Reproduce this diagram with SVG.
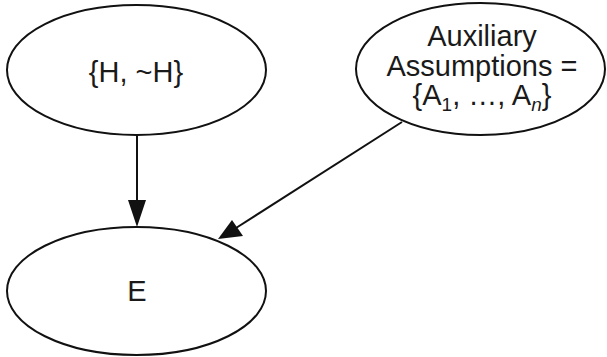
<svg xmlns="http://www.w3.org/2000/svg" width="607" height="357" viewBox="0 0 607 357">
<style>
.n{fill:#fff;stroke:#111;stroke-width:2}
.t{font-family:"Liberation Sans",Arial,sans-serif;font-size:29px;fill:#1a1a1a;text-anchor:middle}
.c{stroke:#111;stroke-width:2;fill:none}
.h{fill:#111}
</style>
<rect width="607" height="357" fill="#fff"/>
<g id="connectors">
<path class="c" d="M137,135 L137,203"/>
<path class="h" d="M128,200 L146,200 L137,227 z"/>
<path class="c" d="M402,122 L236,228"/>
<path class="h" d="M232,220 L243,236 L218,239 z"/>
</g>
<g id="node-H">
<ellipse class="n" cx="136.5" cy="70" rx="129.5" ry="65"/>
<text class="t" x="136" y="82">{H, ~H}</text>
</g>
<g id="node-A">
<ellipse class="n" cx="480.5" cy="69" rx="124.5" ry="66"/>
<text class="t" x="482" y="46">Auxiliary</text>
<text class="t" x="482" y="76">Assumptions =</text>
<text class="t" x="482" y="105">{A<tspan font-size="19" dy="6">1</tspan><tspan dy="-6">, …, A</tspan><tspan font-size="19" dy="6" font-style="italic">n</tspan><tspan dy="-6">}</tspan></text>
</g>
<g id="node-E">
<ellipse class="n" cx="136.5" cy="291" rx="129.5" ry="64"/>
<text class="t" x="137" y="301">E</text>
</g>
</svg>
